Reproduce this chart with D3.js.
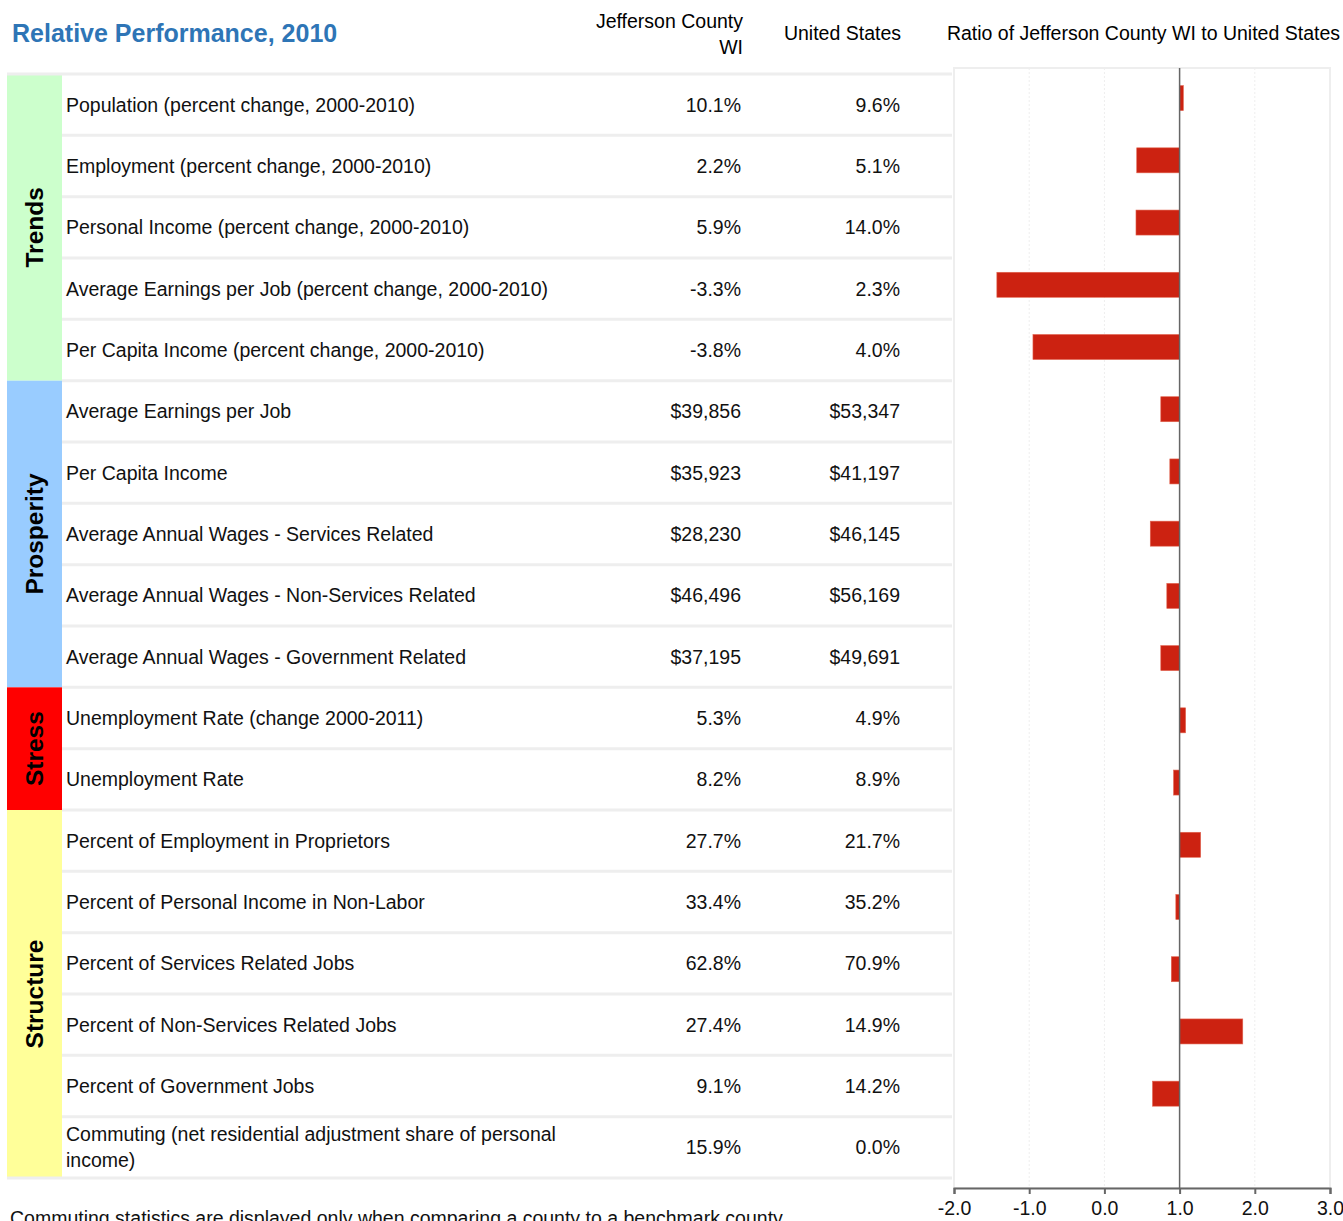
<!DOCTYPE html>
<html>
<head>
<meta charset="utf-8">
<script src="https://cdn.jsdelivr.net/npm/d3@7"></script>
<style>
  body { margin: 0; background: #fff; }
  svg { display: block; font-family: "Liberation Sans", Arial, sans-serif; }
</style>
</head>
<body>
<svg id="chart" width="1343" height="1221"></svg>
<script>
// ----- Datos -----
const rowLabels = [
  "Population (percent change, 2000-2010)",
  "Employment (percent change, 2000-2010)",
  "Personal Income (percent change, 2000-2010)",
  "Average Earnings per Job (percent change, 2000-2010)",
  "Per Capita Income (percent change, 2000-2010)",
  "Average Earnings per Job",
  "Per Capita Income",
  "Average Annual Wages - Services Related",
  "Average Annual Wages - Non-Services Related",
  "Average Annual Wages - Government Related",
  "Unemployment Rate (change 2000-2011)",
  "Unemployment Rate",
  "Percent of Employment in Proprietors",
  "Percent of Personal Income in Non-Labor",
  "Percent of Services Related Jobs",
  "Percent of Non-Services Related Jobs",
  "Percent of Government Jobs",
  "Commuting (net residential adjustment share of personal|income)"
];
const countyValues = ["10.1%", "2.2%", "5.9%", "-3.3%", "-3.8%", "$39,856", "$35,923", "$28,230",
  "$46,496", "$37,195", "5.3%", "8.2%", "27.7%", "33.4%", "62.8%", "27.4%", "9.1%", "15.9%"];
const usValues = ["9.6%", "5.1%", "14.0%", "2.3%", "4.0%", "$53,347", "$41,197", "$46,145",
  "$56,169", "$49,691", "4.9%", "8.9%", "21.7%", "35.2%", "70.9%", "14.9%", "14.2%", "0.0%"];
// Ratio condado / EE.UU. (sin barra para Commuting)
const ratios = [1.05, 0.43, 0.42, -1.43, -0.95, 0.75, 0.87, 0.61, 0.83, 0.75,
  1.08, 0.92, 1.28, 0.95, 0.89, 1.84, 0.64, null];

const groups = [
  { name: "Trends",     start: 0,  count: 5, color: "#ccffcc" },
  { name: "Prosperity", start: 5,  count: 5, color: "#99ccff" },
  { name: "Stress",     start: 10, count: 2, color: "#ff0000" },
  { name: "Structure",  start: 12, count: 6, color: "#ffff99" }
];
const xTicks = [-2, -1, 0, 1, 2, 3];

const FS = 19.5;   // tamaño base del texto
const svg = d3.select("#chart");

// ----- Títulos -----
svg.append("text")
  .attr("x", 12).attr("y", 42)
  .attr("font-size", 25).attr("font-weight", "bold")
  .attr("fill", "#2e75b6")
  .text("Relative Performance, 2010");

svg.append("text").attr("x", 743).attr("y", 28).attr("text-anchor", "end")
  .attr("font-size", FS).text("Jefferson County");
svg.append("text").attr("x", 743).attr("y", 54).attr("text-anchor", "end")
  .attr("font-size", FS).text("WI");
svg.append("text").attr("x", 901).attr("y", 40).attr("text-anchor", "end")
  .attr("font-size", FS).text("United States");

// ----- Tabla -----
const tableY = d3.scaleBand().domain(d3.range(rowLabels.length)).range([74, 1178]);

// Columna de grupos
groups.forEach(g => {
  const y0 = tableY(g.start);
  const y1 = tableY(g.start + g.count - 1) + tableY.bandwidth();
  svg.append("rect")
    .attr("x", 7).attr("y", y0)
    .attr("width", 55).attr("height", y1 - y0)
    .attr("fill", g.color);
  const cy = (y0 + y1) / 2;
  svg.append("text")
    .attr("transform", `translate(43,${cy}) rotate(-90)`)
    .attr("text-anchor", "middle")
    .attr("font-size", 24.5).attr("font-weight", "bold")
    .text(g.name);
});

// Separadores
d3.range(rowLabels.length + 1).forEach(i => {
  const y = 74 + i * tableY.bandwidth();
  const full = (i === 0 || i === rowLabels.length);
  svg.append("line")
    .attr("x1", full ? 7 : 62).attr("x2", 952)
    .attr("y1", y).attr("y2", y)
    .attr("stroke", "#eeeeee").attr("stroke-width", 3);
});

// Filas
rowLabels.forEach((label, i) => {
  const cy = tableY(i) + tableY.bandwidth() / 2;
  const parts = label.split("|");
  parts.forEach((p, k) => {
    svg.append("text")
      .attr("x", 66)
      .attr("y", cy + 7 + (k - (parts.length - 1) / 2) * 26)
      .attr("font-size", FS).attr("fill", "#111")
      .text(p);
  });
  svg.append("text").attr("x", 741).attr("y", cy + 7).attr("text-anchor", "end")
    .attr("font-size", FS).attr("fill", "#111").text(countyValues[i]);
  svg.append("text").attr("x", 900).attr("y", cy + 7).attr("text-anchor", "end")
    .attr("font-size", FS).attr("fill", "#111").text(usValues[i]);
});

// ----- Gráfico de barras -----
const x = d3.scaleLinear().domain([-2, 3]).range([954, 1330]);
const y = d3.scaleBand().domain(d3.range(rowLabels.length)).range([68, 1188]);
const barH = 25;

svg.append("text")
  .attr("x", 1340).attr("y", 40)
  .attr("text-anchor", "end").attr("font-size", FS)
  .text("Ratio of Jefferson County WI to United States");

// Marco
svg.append("rect")
  .attr("x", x(-2)).attr("y", 68)
  .attr("width", x(3) - x(-2)).attr("height", 1188 - 68)
  .attr("fill", "none").attr("stroke", "#eeeeee").attr("stroke-width", 2);

// Rejilla
[-1, 0, 2].forEach(t => {
  svg.append("line")
    .attr("x1", x(t)).attr("x2", x(t))
    .attr("y1", 68).attr("y2", 1188)
    .attr("stroke", "#eeeeee").attr("stroke-dasharray", "2,2");
});

// Barras desde 1.0
svg.selectAll("rect.bar")
  .data(ratios.map((r, i) => ({ r, i })).filter(d => d.r !== null))
  .enter().append("rect")
  .attr("class", "bar")
  .attr("x", d => x(Math.min(1, d.r)))
  .attr("y", d => y(d.i) + y.bandwidth() / 2 - barH / 2 - 1)
  .attr("width", d => Math.abs(x(d.r) - x(1)))
  .attr("height", barH)
  .attr("fill", "#cc2211")
  .attr("stroke", "#e2634f").attr("stroke-width", 0.6);

// Línea de referencia en 1.0
svg.append("line")
  .attr("x1", x(1)).attr("x2", x(1))
  .attr("y1", 68).attr("y2", 1188)
  .attr("stroke", "#666").attr("stroke-width", 1.5);

// Eje x (guion normal en negativos, como el original)
const axis = svg.append("g")
  .attr("transform", "translate(0,1188)")
  .call(d3.axisBottom(x).tickValues(xTicks)
    .tickFormat(d => d.toFixed(1)).tickSize(6).tickSizeOuter(6));
axis.select(".domain").attr("stroke", "#666").attr("stroke-width", 2);
axis.selectAll(".tick line").attr("stroke", "#666").attr("stroke-width", 2);
axis.selectAll(".tick text")
  .attr("font-size", FS).attr("font-family", "Liberation Sans, Arial, sans-serif")
  .attr("fill", "#111").attr("dy", "0.75em").attr("y", 12);

// Nota al pie
svg.append("text")
  .attr("x", 10).attr("y", 1225)
  .attr("font-size", FS).attr("fill", "#111")
  .text("Commuting statistics are displayed only when comparing a county to a benchmark county.");
</script>
</body>
</html>
